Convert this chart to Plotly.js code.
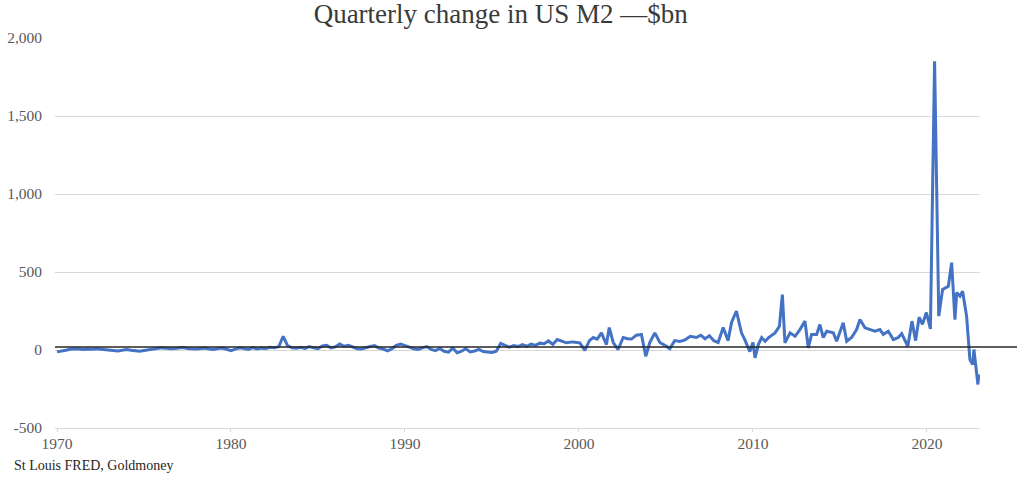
<!DOCTYPE html>
<html>
<head>
<meta charset="utf-8">
<script src="https://cdn.plot.ly/plotly-3.0.1.min.js"></script>
<style>html,body{margin:0;padding:0;background:#fff;}#chart{width:1024px;height:482px;}</style>
</head>
<body>
<div id="chart"></div>
<script>
// Quarterly values 1970 Q1 .. 1998 Q4 ($bn)
const earlyStartYear = 1970;
const earlyValues = [
  -12, -8, -2, 5,
  8, 6, 4, 7,
  5, 8, 6, 2,
  0, -4, -6, -2,
  3, -2, -6, -8,
  -3, 2, 6, 10,
  14, 12, 8, 10,
  12, 16, 10, 8,
  6, 10, 12, 6,
  4, 9, 12, 5,
  -4, 6, 14, 10,
  4, 16, 6, 12,
  10, 18, 14, 22,
  88, 28, 14, 12,
  18, 10, 22, 14,
  8, 26, 30, 14,
  20, 38, 24, 30,
  18, 8, 6, 16,
  22, 28, 12, 6,
  -6, 8, 30, 38,
  26, 18, 8, 4,
  14, 22, 4, -4,
  10, -8, -14, 12,
  -18, -8, 8, -12,
  -6, 4, -10, -14,
  -16, -8, 42, 30,
  18, 28, 22, 34,
  24, 38, 30, 44,
  40, 58, 36, 67
];
// Later readings (decimal year, $bn)
const lateYears = [
  1999.28, 1999.65, 2000.05, 2000.34, 2000.6, 2000.82, 2001.05, 2001.29, 2001.58, 2001.74, 2001.97,
  2002.25, 2002.54, 2002.8, 2003.02, 2003.3, 2003.59, 2003.84, 2004.07, 2004.36, 2004.65, 2005.03,
  2005.22, 2005.5, 2005.8, 2006.1, 2006.4, 2006.75, 2007.0, 2007.25, 2007.5, 2007.75, 2008.0,
  2008.29, 2008.57, 2008.77, 2009.05, 2009.34, 2009.53, 2009.82, 2010.0, 2010.12, 2010.31, 2010.5,
  2010.7, 2010.9, 2011.27, 2011.52, 2011.69, 2011.84, 2012.13, 2012.42, 2012.7, 2012.99, 2013.18,
  2013.37, 2013.66, 2013.85, 2014.04, 2014.24, 2014.62, 2014.81, 2015.19, 2015.39, 2015.67, 2015.96,
  2016.15, 2016.44, 2016.73, 2017.01, 2017.3, 2017.49, 2017.78, 2018.07, 2018.35, 2018.55, 2018.9,
  2019.14, 2019.35, 2019.55, 2019.74, 2019.97, 2020.2, 2020.44, 2020.68, 2020.9, 2021.23, 2021.42,
  2021.61, 2021.71, 2021.9, 2022.05, 2022.28, 2022.47, 2022.63, 2022.7, 2022.93, 2022.98
];
const lateValues = [
  46, 52, 46, -3, 60, 80, 70, 110, 35, 144, 48,
  3, 80, 72, 70, 95, 100, -40, 48, 110, 48, 24,
  8, 60, 55, 65, 88, 80, 95, 72, 92, 60, 48,
  144, 60, 176, 250, 110, 67, -10, 48, -50, 35, 80,
  56, 80, 110, 152, 355, 46, 110, 88, 131, 185, 14,
  100, 100, 163, 80, 120, 110, 56, 174, 56, 80, 131,
  195, 142, 131, 120, 131, 100, 120, 67, 80, 105, 24,
  185, 60, 210, 165, 240, 135, 1851, 217, 388, 409, 560,
  195, 368, 345, 377, 217, -61, -93, 3, -221, -157
];
const xTickVals = [1970, 1980, 1990, 2000, 2010, 2020];
const xTickText = ['1970', '1980', '1990', '2000', '2010', '2020'];
const yTickVals = [-500, 0, 500, 1000, 1500, 2000];
const yTickText = ['-500', '0', '500', '1,000', '1,500', '2,000'];

const xs = earlyValues.map((v, i) => earlyStartYear + i * 0.25).concat(lateYears);
const ys = earlyValues.concat(lateValues);

const serif = '"Liberation Serif", "DejaVu Serif", serif';

const trace = {
  x: xs, y: ys, type: 'scatter', mode: 'lines',
  line: {color: '#4472C4', width: 3, shape: 'linear'},
  hoverinfo: 'skip'
};

const layout = {
  width: 1024, height: 482,
  margin: {l: 55, r: 44, t: 38, b: 54},
  paper_bgcolor: '#ffffff', plot_bgcolor: '#ffffff',
  showlegend: false,
  title: {text: 'Quarterly change in US M2 —$bn', x: 0.489, xanchor: 'center', y: 0.972, yanchor: 'middle',
    font: {family: serif, size: 27, color: '#3a3a3a'}},
  xaxis: {
    range: [1969.885, 2023.05], tickvals: xTickVals, ticktext: xTickText,
    showgrid: false, zeroline: false, showline: true, linecolor: '#d9d9d9', linewidth: 1,
    ticks: 'outside', ticklen: 3, tickcolor: '#d9d9d9', ticklabelstandoff: -2,
    tickfont: {family: serif, size: 15.5, color: '#595959'}
  },
  yaxis: {
    range: [-500, 2000], tickvals: yTickVals, ticktext: yTickText,
    showgrid: true, gridcolor: '#d9d9d9', gridwidth: 1, zeroline: false, showline: false,
    ticks: '', ticklabelstandoff: 12,
    tickfont: {family: serif, size: 15.5, color: '#595959'}
  },
  shapes: [{type: 'line', xref: 'paper', yref: 'y', x0: 0, x1: 1.04, y0: 20, y1: 20,
    line: {color: '#262626', width: 1.5}}],
  annotations: [{text: 'St Louis FRED, Goldmoney', xref: 'paper', yref: 'paper',
    x: -0.047, y: -0.095, xanchor: 'left', yanchor: 'middle', showarrow: false,
    font: {family: serif, size: 14, color: '#262626'}}]
};

Plotly.newPlot('chart', [trace], layout, {displayModeBar: false, staticPlot: true});
</script>
</body>
</html>
